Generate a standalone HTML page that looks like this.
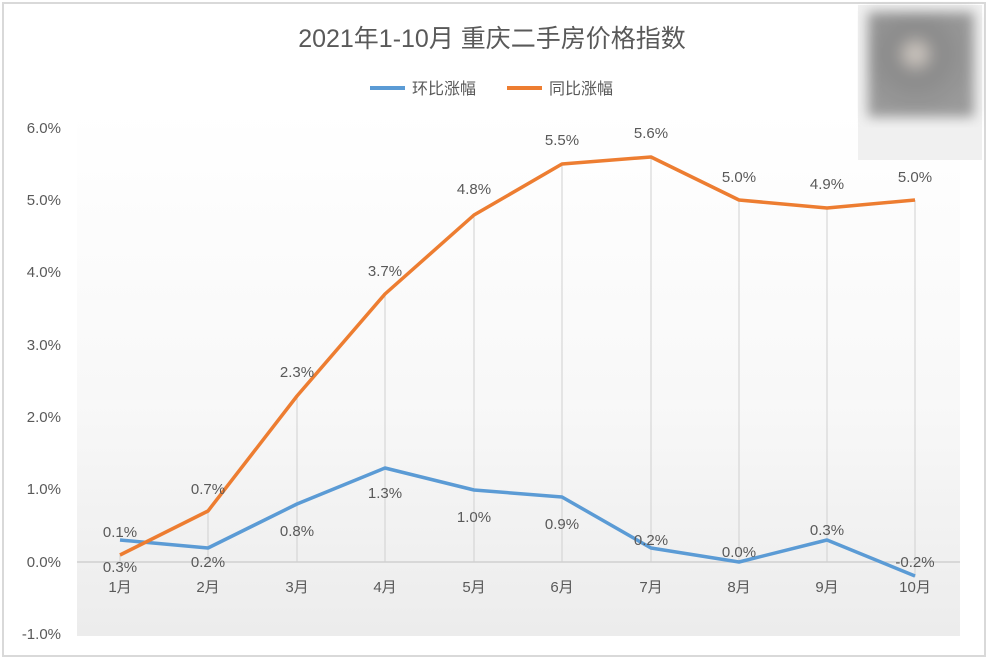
<!DOCTYPE html><html><head><meta charset="utf-8"><style>body{margin:0;background:#fff}svg{display:block}text{font-family:"Liberation Sans","Noto Sans CJK SC",sans-serif;fill:#595959}</style></head><body>
<svg width="988" height="662" viewBox="0 0 988 662">
<defs><linearGradient id="g" x1="0" y1="0" x2="0" y2="1"><stop offset="0" stop-color="#fff"/><stop offset="0.55" stop-color="#f8f8f8"/><stop offset="1" stop-color="#ececec"/></linearGradient>
<radialGradient id="b" cx="0.45" cy="0.4" r="0.6"><stop offset="0" stop-color="#d8d0c8"/><stop offset="0.35" stop-color="#8a8a8a"/><stop offset="1" stop-color="#9a9a9a"/></radialGradient>
<filter id="bl"><feGaussianBlur stdDeviation="6"/></filter></defs>
<rect x="3" y="3" width="982" height="653" fill="#fff" stroke="#d9d9d9" stroke-width="2"/>
<rect x="77" y="110" width="883" height="526" fill="url(#g)"/>
<rect x="858" y="5" width="124" height="155" fill="#f0f0f0"/>
<rect x="868" y="12" width="106" height="105" fill="url(#b)" filter="url(#bl)"/>
<text x="492" y="47" font-size="25" text-anchor="middle">2021年1-10月 重庆二手房价格指数</text>
<line x1="370" y1="88" x2="405" y2="88" stroke="#5b9bd5" stroke-width="4"/><text x="412" y="94" font-size="16">环比涨幅</text>
<line x1="507" y1="88" x2="542" y2="88" stroke="#ed7d31" stroke-width="4"/><text x="549" y="94" font-size="16">同比涨幅</text>
<g font-size="15" text-anchor="end">
<text x="61" y="133">6.0%</text><text x="61" y="205">5.0%</text><text x="61" y="277">4.0%</text><text x="61" y="350">3.0%</text><text x="61" y="422">2.0%</text><text x="61" y="494">1.0%</text><text x="61" y="567">0.0%</text><text x="61" y="639">-1.0%</text></g>
<line x1="77" y1="562" x2="960" y2="562" stroke="#d0d0d0" stroke-width="1.5"/>
<g stroke="#d0d0d0" stroke-width="1">
<line x1="120" y1="555" x2="120" y2="562"/><line x1="208" y1="511" x2="208" y2="562"/><line x1="297" y1="396" x2="297" y2="562"/><line x1="385" y1="294" x2="385" y2="562"/><line x1="474" y1="215" x2="474" y2="562"/><line x1="562" y1="164" x2="562" y2="562"/><line x1="651" y1="157" x2="651" y2="562"/><line x1="739" y1="200" x2="739" y2="562"/><line x1="827" y1="208" x2="827" y2="562"/><line x1="915" y1="200" x2="915" y2="577"/></g>
<polyline fill="none" stroke="#5b9bd5" stroke-width="3.5" stroke-linejoin="round" points="120,540 208,548 297,504 385,468 474,490 562,497 651,548 739,562 827,540 915,576"/>
<polyline fill="none" stroke="#ed7d31" stroke-width="3.5" stroke-linejoin="round" points="120,555 208,511 297,396 385,294 474,215 562,164 651,157 739,200 827,208 915,200"/>
<g font-size="15" text-anchor="middle">
<text x="120" y="572">0.3%</text><text x="208" y="567">0.2%</text><text x="297" y="536">0.8%</text><text x="385" y="498">1.3%</text><text x="474" y="522">1.0%</text><text x="562" y="529">0.9%</text><text x="651" y="545">0.2%</text><text x="739" y="557">0.0%</text><text x="827" y="535">0.3%</text><text x="915" y="567">-0.2%</text>
<text x="120" y="537">0.1%</text><text x="208" y="494">0.7%</text><text x="297" y="377">2.3%</text><text x="385" y="276">3.7%</text><text x="474" y="194">4.8%</text><text x="562" y="145">5.5%</text><text x="651" y="138">5.6%</text><text x="739" y="182">5.0%</text><text x="827" y="189">4.9%</text><text x="915" y="182">5.0%</text>
<text x="120" y="592">1月</text><text x="208" y="592">2月</text><text x="297" y="592">3月</text><text x="385" y="592">4月</text><text x="474" y="592">5月</text><text x="562" y="592">6月</text><text x="651" y="592">7月</text><text x="739" y="592">8月</text><text x="827" y="592">9月</text><text x="915" y="592">10月</text></g>
</svg></body></html>
